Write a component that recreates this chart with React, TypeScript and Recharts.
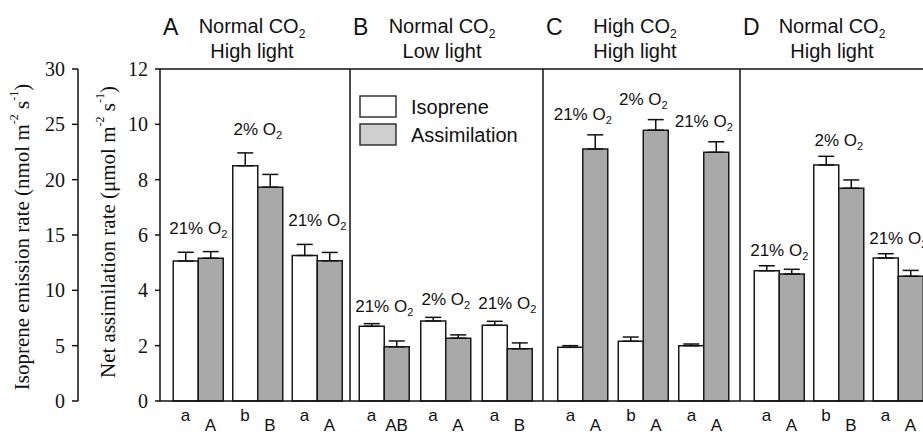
import React from 'react';
import { BarChart, Bar, XAxis, YAxis, ErrorBar, LabelList, Legend } from 'recharts';

// Treatment groups shown in every panel (21% O2 → 2% O2 → back to 21% O2)
const groupKeys = ['before', 'lowO2', 'after'];
const o2Levels = ['21%', '2%', '21%'];

// Panel A – normal CO2, high light
const isopreneA = [12.65, 21.26, 13.15];
const isopreneErrA = [0.79, 1.16, 1.0];
const assimilationA = [5.16, 7.73, 5.07];
const assimilationErrA = [0.24, 0.46, 0.3];
const isoLettersA = ['a', 'b', 'a'];
const asmLettersA = ['A', 'B', 'A'];

// Panel B – normal CO2, low light
const isopreneB = [6.75, 7.23, 6.84];
const isopreneErrB = [0.24, 0.33, 0.36];
const assimilationB = [1.96, 2.27, 1.89];
const assimilationErrB = [0.21, 0.12, 0.21];
const isoLettersB = ['a', 'a', 'a'];
const asmLettersB = ['AB', 'A', 'B'];

// Panel C – high CO2, high light
const isopreneC = [4.85, 5.4, 5.0];
const isopreneErrC = [0.15, 0.38, 0.15];
const assimilationC = [9.11, 9.79, 8.99];
const assimilationErrC = [0.51, 0.38, 0.38];
const isoLettersC = ['a', 'b', 'a'];
const asmLettersC = ['A', 'A', 'A'];

// Panel D – normal CO2, high light
const isopreneD = [11.77, 21.33, 12.92];
const isopreneErrD = [0.45, 0.78, 0.39];
const assimilationD = [4.59, 7.69, 4.51];
const assimilationErrD = [0.17, 0.3, 0.21];
const isoLettersD = ['a', 'b', 'a'];
const asmLettersD = ['A', 'B', 'A'];

const panelLetters = ['A', 'B', 'C', 'D'];
const panelCO2 = ['Normal CO', 'Normal CO', 'High CO', 'Normal CO'];
const panelLight = ['High light', 'Low light', 'High light', 'High light'];

const isopreneTicks = [0, 5, 10, 15, 20, 25, 30];
const assimilationTicks = [0, 2, 4, 6, 8, 10, 12];

const seriesNames = ['Isoprene', 'Assimilation'];

const isoSeries = [isopreneA, isopreneB, isopreneC, isopreneD];
const isoErrSeries = [isopreneErrA, isopreneErrB, isopreneErrC, isopreneErrD];
const asmSeries = [assimilationA, assimilationB, assimilationC, assimilationD];
const asmErrSeries = [assimilationErrA, assimilationErrB, assimilationErrC, assimilationErrD];
const lowerLetters = [isoLettersA, isoLettersB, isoLettersC, isoLettersD];
const upperLetters = [asmLettersA, asmLettersB, asmLettersC, asmLettersD];

const ISO_MAX = isopreneTicks[isopreneTicks.length - 1];
const ASM_MAX = assimilationTicks[assimilationTicks.length - 1];
const SCALE_RATIO = ISO_MAX / ASM_MAX;

const SANS = "'Liberation Sans', Arial, sans-serif";
const SERIF = "'Liberation Serif', 'Times New Roman', serif";
const INK = '#111';
const BAR_GREY = '#a9a9a9';
const legendFills = ['#ffffff', '#cfcfcf'];

// Placement of each panel on the page
const panelLayout = [
  { left: 0, width: 351, padL: 8.25, padR: 3.25, lift: 18 },
  { left: 350, width: 194, padL: 3.25, padR: 5.25, lift: 12 },
  { left: 543, width: 198, padL: 9.75, padR: 5.75, lift: 15 },
  { left: 740, width: 194, padL: 9.25, padR: 5.25, lift: 10 },
];

function buildRows(p: number) {
  return groupKeys.map((g, i) => ({
    group: g,
    isoprene: isoSeries[p][i],
    isopreneErr: [0, isoErrSeries[p][i]],
    assimilation: asmSeries[p][i],
    assimilationErr: [0, asmErrSeries[p][i]],
  }));
}

function LetterTick(props: any) {
  const { x, y, payload, panel } = props;
  const i = payload.index;
  return (
    <g>
      <text x={x - 12.5} y={y + 20} textAnchor="middle" fontFamily={SANS} fontSize={17} fill={INK}>
        {lowerLetters[panel][i]}
      </text>
      <text x={x + 12.5} y={y + 30} textAnchor="middle" fontFamily={SANS} fontSize={17} fill={INK}>
        {upperLetters[panel][i]}
      </text>
    </g>
  );
}

function PanelTitle({ vb, panel }: any) {
  const x0 = vb && typeof vb.x === 'number' ? vb.x : 0;
  const cx = x0 + 92;
  return (
    <g fontFamily={SANS} fill={INK}>
      <text x={x0 + 3} y={35} fontSize={23}>
        {panelLetters[panel]}
      </text>
      <text x={cx} y={33} fontSize={20} textAnchor="middle">
        {panelCO2[panel]}
        <tspan fontSize={12} dy={5}>2</tspan>
      </text>
      <text x={cx} y={58} fontSize={20} textAnchor="middle">
        {panelLight[panel]}
      </text>
    </g>
  );
}

function YTitle({ cx, cy, main, unit }: any) {
  return (
    <text
      x={cx}
      y={cy}
      transform={`rotate(-90, ${cx}, ${cy})`}
      textAnchor="middle"
      dominantBaseline="central"
      fontFamily={SERIF}
      fontSize={21}
      fill={INK}
    >
      {main} ({unit} m
      <tspan fontSize={12} dy={-8}>-2</tspan>
      <tspan dy={8}> s</tspan>
      <tspan fontSize={12} dy={-8}>-1</tspan>
      <tspan dy={8}>)</tspan>
    </text>
  );
}

const makeO2Label = (p: number) => (props: any) => {
  const vb = props.viewBox && typeof props.viewBox.x === 'number' ? props.viewBox : props;
  const { x, y, height } = vb;
  const asm = asmSeries[p];
  let i = typeof props.index === 'number' ? props.index : asm.indexOf(Number(props.value));
  if (i < 0) i = 0;
  const unit = height / asm[i];
  const base = y + height;
  const asmTop = y - asmErrSeries[p][i] * unit;
  const isoTop = base - ((isoSeries[p][i] + isoErrSeries[p][i]) / SCALE_RATIO) * unit;
  const top = Math.min(asmTop, isoTop);
  return (
    <text x={x} y={top - panelLayout[p].lift} textAnchor="middle" fontFamily={SANS} fontSize={17} fill={INK}>
      {o2Levels[i]} O<tspan fontSize={11} dy={4}>2</tspan>
    </text>
  );
};

function LegendContent({ payload }: any) {
  const items = [...(payload || [])].sort(
    (a: any, b: any) => seriesNames.indexOf(a.value) - seriesNames.indexOf(b.value)
  );
  return (
    <svg width={175} height={52} style={{ display: 'block' }}>
      {items.map((e: any, i: number) => (
        <g key={e.value}>
          <rect x={1} y={1 + i * 28} width={36} height={21} fill={legendFills[i]} stroke="#333" strokeWidth={1.5} />
          <text x={52} y={11.5 + i * 28} dominantBaseline="central" fontFamily={SANS} fontSize={20} fill={INK}>
            {e.value}
          </text>
        </g>
      ))}
    </svg>
  );
}

const axisLineStyle = { stroke: '#111', strokeWidth: 1.5 };

function Panel({ panel }: { panel: number }) {
  const L = panelLayout[panel];
  const rows = buildRows(panel);
  const first = panel === 0;
  return (
    <div style={{ position: 'absolute', left: L.left, top: 0 }}>
      <BarChart
        width={L.width}
        height={435}
        data={rows}
        margin={{ top: 68, right: 0, bottom: 0, left: 0 }}
        barGap={0}
        barSize={25}
      >
        <XAxis
          xAxisId="bottom"
          dataKey="group"
          height={34}
          padding={{ left: L.padL, right: L.padR }}
          axisLine={axisLineStyle}
          tickLine={false}
          tickSize={0}
          tickMargin={0}
          interval={0}
          tick={<LetterTick panel={panel} />}
        />
        <XAxis
          xAxisId="top"
          dataKey="group"
          orientation="top"
          height={1}
          padding={{ left: L.padL, right: L.padR }}
          axisLine={axisLineStyle}
          tick={false}
          tickLine={false}
          label={{ content: (p: any) => <PanelTitle vb={p.viewBox} panel={panel} /> }}
        />
        <YAxis
          yAxisId="asm"
          hide={!first}
          width={82}
          domain={[0, ASM_MAX]}
          ticks={assimilationTicks}
          interval={0}
          axisLine={axisLineStyle}
          tickLine={{ stroke: '#111', strokeWidth: 1.5 }}
          tickSize={5}
          tickMargin={7}
          tick={{ fontFamily: SERIF, fontSize: 20, fill: INK }}
          label={{
            content: (p: any) => {
              const vb = p.viewBox || { x: 78, y: 69, height: 332 };
              return (
                <YTitle cx={vb.x + 30} cy={vb.y + vb.height / 2 - 3} main="Net assimilation rate" unit={'\u03bcmol'} />
              );
            },
          }}
        />
        <YAxis
          yAxisId="iso"
          hide={!first}
          width={78}
          domain={[0, ISO_MAX]}
          ticks={isopreneTicks}
          interval={0}
          axisLine={axisLineStyle}
          tickLine={{ stroke: '#111', strokeWidth: 1.5 }}
          tickSize={6}
          tickMargin={7}
          tick={{ fontFamily: SERIF, fontSize: 20, fill: INK }}
          label={{
            content: (p: any) => {
              const vb = p.viewBox || { x: 0, y: 69, height: 332 };
              return <YTitle cx={vb.x + 22} cy={vb.y + vb.height / 2 + 2} main="Isoprene emission rate" unit="nmol" />;
            },
          }}
        />
        <YAxis
          yAxisId="frame"
          orientation="right"
          width={1}
          domain={[0, 1]}
          tick={false}
          tickLine={false}
          axisLine={axisLineStyle}
        />
        <Bar
          xAxisId="bottom"
          yAxisId="iso"
          dataKey="isoprene"
          name={seriesNames[0]}
          fill="#ffffff"
          stroke="#1a1a1a"
          strokeWidth={1.5}
          isAnimationActive={false}
        >
          <ErrorBar dataKey="isopreneErr" width={8} stroke="#111" strokeWidth={1.5} direction="y" />
        </Bar>
        <Bar
          xAxisId="bottom"
          yAxisId="asm"
          dataKey="assimilation"
          name={seriesNames[1]}
          fill={BAR_GREY}
          stroke="#1a1a1a"
          strokeWidth={1.5}
          isAnimationActive={false}
        >
          <ErrorBar dataKey="assimilationErr" width={8} stroke="#111" strokeWidth={1.5} direction="y" />
          <LabelList dataKey="assimilation" content={makeO2Label(panel)} />
        </Bar>
        {panel === 1 && (
          <Legend
            layout="vertical"
            align="center"
            verticalAlign="middle"
            wrapperStyle={{ left: 9, top: 95, width: 'auto', height: 'auto' }}
            content={<LegendContent />}
          />
        )}
      </BarChart>
    </div>
  );
}

export default function App() {
  return (
    <div
      style={{
        position: 'absolute',
        left: 0,
        top: 0,
        width: 923,
        height: 435,
        overflow: 'hidden',
        background: '#fff',
        fontFamily: SANS,
      }}
    >
      {[0, 1, 2, 3].map((p) => (
        <Panel key={p} panel={p} />
      ))}
    </div>
  );
}
